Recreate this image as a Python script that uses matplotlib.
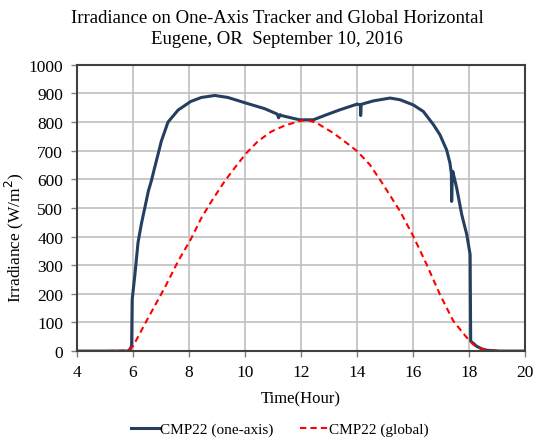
import matplotlib
matplotlib.use('Agg')
import matplotlib.pyplot as plt

# one-axis tracker readings (hour, W/m2)
hour_track = [4.0, 5.0, 5.8, 5.9, 5.95, 5.97, 6.06, 6.18, 6.3, 6.42, 6.55, 6.65, 6.77, 6.9,
              7.01, 7.25, 7.61, 8.06, 8.44, 8.92, 9.39, 10.05, 10.7, 11.15, 11.2, 11.25,
              11.3, 11.77, 11.96, 12.44, 12.92, 13.39, 14.01, 14.12, 14.13, 14.15, 14.58,
              15.18, 15.54, 16.01, 16.37, 16.73, 16.96, 17.2, 17.32, 17.37, 17.38, 17.4,
              17.42, 17.56, 17.74, 17.92, 18.04, 18.06, 18.27, 18.45, 18.63, 19.1, 20.0]
irr_track = [0, 0, 0, 5, 20, 180, 260, 380, 445, 500, 560, 593, 640, 690,
             733, 800, 842, 872, 886, 893, 886, 866, 847, 828, 815, 826,
             823, 812, 808, 808, 826, 843, 863, 860, 823, 862, 874,
             884, 878, 860, 837, 791, 756, 703, 657, 620, 523, 600,
             628, 570, 477, 407, 337, 35, 17, 8, 3, 0, 0]

# global horizontal readings (hour, W/m2)
hour_glob = [4.0, 5.0, 5.8, 6.0, 6.54, 7.13, 7.61, 8.06, 8.44, 8.8, 9.27, 9.63, 10.05,
             10.46, 10.94, 11.42, 11.89, 12.2, 12.56, 13.15, 13.63, 14.01, 14.46, 14.94,
             15.54, 16.01, 16.49, 16.96, 17.44, 17.92, 18.15, 18.4, 18.63, 19.1, 20.0]
irr_glob = [0, 0, 2, 17, 116, 221, 314, 390, 465, 523, 593, 640, 692,
            733, 767, 788, 802, 808, 797, 762, 727, 698, 651, 581,
            488, 401, 302, 198, 105, 47, 23, 10, 3, 0, 0]

x_ticks = [4, 6, 8, 10, 12, 14, 16, 18, 20]
y_ticks = [0, 100, 200, 300, 400, 500, 600, 700, 800, 900, 1000]

plt.rcParams['font.family'] = ['Liberation Serif', 'DejaVu Serif']

fig = plt.figure(figsize=(5.33, 4.39), dpi=100)
ax = fig.add_axes([0.1445, 0.198, 0.8405, 0.652])

# data
ax.plot(hour_track, irr_track, color='#243f60', linewidth=2.2, label='CMP22 (one-axis)')
ax.plot(hour_glob, irr_glob, color='#ff0000', linewidth=1.5, linestyle=(0, (3, 2)),
        label='CMP22 (global)')

# limits
ax.set_xlim(4, 20)
ax.set_ylim(0, 1000)
ax.set_xticks(x_ticks)
ax.set_yticks(y_ticks)
ax.tick_params(labelsize=12.5, length=4, width=1, color='#808080', direction='out')
ax.tick_params(axis='x', pad=5)
ax.tick_params(axis='y', pad=6)

# frame and grid
for s in ax.spines.values():
    s.set_color('#404040')
    s.set_linewidth(1.5)
ax.grid(color='#bfbfbf', linewidth=1.2)
ax.set_axisbelow(True)

# text
ax.set_xlabel('Time(Hour)', fontsize=12, labelpad=8)
ax.set_ylabel('Irradiance (W/m$^2$)', fontsize=12.5)
ax.yaxis.set_label_coords(-0.115, 0.40)
fig.suptitle('Irradiance on One-Axis Tracker and Global Horizontal\nEugene, OR  September 10, 2016',
             fontsize=13.5, x=0.52, y=0.978, linespacing=1.35)

fig.legend(loc='center', ncol=2, frameon=False, fontsize=11,
           bbox_to_anchor=(0.525, 0.02), handlelength=1.8, columnspacing=1.8,
           handletextpad=0.05)

fig.savefig('out.png', dpi=100)
